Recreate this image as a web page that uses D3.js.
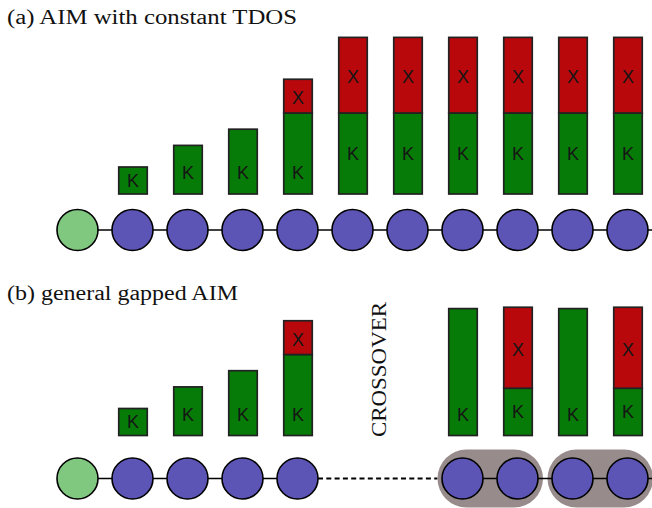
<!DOCTYPE html>
<html lang="en">
<head>
    <meta charset="UTF-8">
    <title>AIM chain diagram</title>
    <script src="https://d3js.org/d3.v7.min.js"></script>
    <style>
        body { margin: 0; background: #fff; }
        .title { font-family: "Liberation Serif", "Times New Roman", serif; font-size: 20px; fill: #111; }
        .lbl { font-family: "Liberation Sans", Arial, sans-serif; font-size: 18px; fill: #151515; text-anchor: middle; }
    </style>
</head>
<body>
    <svg width="652" height="508"></svg>

    <script>
        // site indices along the chain (0 = impurity)
        const sitesA = [0, 1, 2, 3, 4, 5, 6, 7, 8, 9, 10];
        const kA = [null, 1, 1.8, 2.4, 3, 3, 3, 3, 3, 3, 3];
        const xA = [null, 0, 0, 0, 1.25, 2.8, 2.8, 2.8, 2.8, 2.8, 2.8];

        const sitesB = [0, 1, 2, 3, 4, 7, 8, 9, 10];
        const kB = [null, 1, 1.8, 2.4, 3, 4.7, 1.75, 4.7, 1.75];
        const xB = [null, 0, 0, 0, 1.25, 0, 3, 0, 3];
        const pairsB = [[7, 8], [9, 10]];

        const titles = ["(a) AIM with constant TDOS", "(b) general gapped AIM"];

        const svg = d3.select("svg");
        const x = d3.scaleLinear().domain([0, 10]).range([77.5, 627.5]);
        const h = d3.scaleLinear().domain([0, 1]).range([0, 27]);
        const barW = 28.5, r = 20.5;

        const green = "#077b07", red = "#b8080c", blue = "#5c55b6", imp = "#80c880";

        function panel(g, sites, kv, xv, base, chainY, opts) {
            // chain line
            if (opts.gap) {
                g.append("line").attr("x1", x(0)).attr("x2", x(opts.gap[0]))
                    .attr("y1", chainY).attr("y2", chainY)
                    .attr("stroke", "#000").attr("stroke-width", 1.6);
                g.append("line").attr("x1", x(opts.gap[0]) + r).attr("x2", x(opts.gap[1]) - 25)
                    .attr("y1", chainY).attr("y2", chainY)
                    .attr("stroke", "#000").attr("stroke-width", 1.8)
                    .attr("stroke-dasharray", "5,3.3");
                g.selectAll("rect.pill").data(opts.pairs).enter().append("rect")
                    .attr("class", "pill")
                    .attr("x", d => x(d[0]) - 25)
                    .attr("width", d => x(d[1]) - x(d[0]) + 50.5)
                    .attr("y", chainY - 29).attr("height", 58)
                    .attr("rx", 29).attr("fill", "#978b8b");
                g.append("line").attr("x1", x(opts.gap[1])).attr("x2", 652)
                    .attr("y1", chainY).attr("y2", chainY)
                    .attr("stroke", "#000").attr("stroke-width", 1.6);
            } else {
                g.append("line").attr("x1", x(0)).attr("x2", 652)
                    .attr("y1", chainY).attr("y2", chainY)
                    .attr("stroke", "#000").attr("stroke-width", 1.6);
            }

            g.selectAll("circle").data(sites).enter().append("circle")
                .attr("cx", d => x(d)).attr("cy", chainY).attr("r", r)
                .attr("fill", d => d === 0 ? imp : blue)
                .attr("stroke", "#000").attr("stroke-width", 1.6);

            const bars = sites.map((s, i) => ({ s, k: kv[i], xv: xv[i] })).filter(d => d.k !== null);

            const bg = g.selectAll("g.bar").data(bars).enter().append("g").attr("class", "bar");
            bg.append("rect")
                .attr("x", d => x(d.s) + 0.5 - barW / 2).attr("width", barW)
                .attr("y", d => base - h(d.k)).attr("height", d => h(d.k))
                .attr("fill", green).attr("stroke", "#222").attr("stroke-width", 1.7);
            bg.filter(d => d.xv > 0).append("rect")
                .attr("x", d => x(d.s) + 0.5 - barW / 2).attr("width", barW)
                .attr("y", d => base - h(d.k) - h(d.xv)).attr("height", d => h(d.xv))
                .attr("fill", red).attr("stroke", "#222").attr("stroke-width", 1.7);

            bg.append("text").attr("class", "lbl")
                .attr("x", d => x(d.s) + 0.5)
                .attr("y", d => {
                    const mid = base - h(d.k) / 2;
                    return d.xv >= 2.5 ? mid : Math.max(mid, base - 21);
                })
                .attr("dy", "0.36em").text("K");
            bg.filter(d => d.xv > 0).append("text").attr("class", "lbl")
                .attr("x", d => x(d.s) + 0.5)
                .attr("y", d => base - h(d.k) - h(d.xv) / 2 + 1.5)
                .attr("dy", "0.36em").text("X");
        }

        const gA = svg.append("g");
        gA.append("text").attr("class", "title").attr("x", 7).attr("y", 23.5)
            .attr("textLength", 290).attr("lengthAdjust", "spacingAndGlyphs").text(titles[0]);
        panel(gA, sitesA, kA, xA, 194, 230, {});

        const gB = svg.append("g");
        gB.append("text").attr("class", "title").attr("x", 7).attr("y", 300)
            .attr("textLength", 231).attr("lengthAdjust", "spacingAndGlyphs").text(titles[1]);
        panel(gB, sitesB, kB, xB, 435.5, 478.5, { gap: [4, 7], pairs: pairsB });

        gB.append("text").attr("class", "title")
            .attr("transform", "translate(385.5,369.5) rotate(-90)")
            .attr("text-anchor", "middle")
            .attr("textLength", 135).attr("lengthAdjust", "spacingAndGlyphs")
            .text("CROSSOVER");
    </script>
</body>
</html>
